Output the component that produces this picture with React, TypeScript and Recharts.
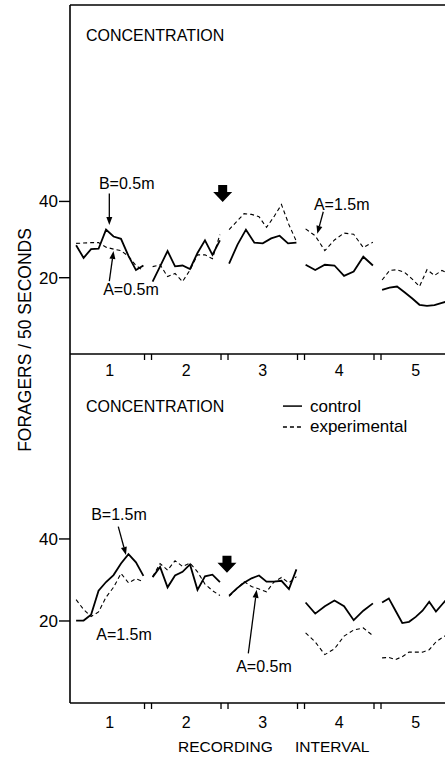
import React from "react";
import { LineChart, Line, XAxis, YAxis, ReferenceLine, ReferenceDot } from "recharts";

const FONT = '"Liberation Sans", Arial, sans-serif';

const intervals = [1, 2, 3, 4, 5];
const breaks = [1.5, 2.5, 3.5, 4.5];
const countTicks = [20, 40];

// foragers per 50 s, one inner list per recording interval
const upperControl = [
  [28.5, 25.2, 27.5, 27.6, 32.6, 30.8, 30.2, 25.7, 22, 23.2],
  [19, 23, 27, 23, 23.2, 22.3, 26.5, 29.8, 26, 29.8],
  [23.7, 28.7, 32.6, 29.2, 29, 30.3, 31, 29, 29.2],
  [23.4, 22, 23.4, 23.2, 20.5, 21.6, 25.5, 23.2],
  [16.8, 17.4, 17.7, 16.2, 14.6, 12.9, 12.6, 12.8, 13.4, 14],
];
const upperExperimental = [
  [29, 29.1, 29.2, 29.2, 28, 27.5, 27.1, 25.6, 23.2, 21.8],
  [22.9, 23.4, 20.3, 21.1, 19, 22, 26, 26, 25, 31.3],
  [32.6, 34.7, 36.8, 36.6, 36, 33.2, 36, 39.2, 33.9, 29.5],
  [32.8, 31, 27.1, 29.9, 31.7, 31.4, 27.9, 29.3],
  [19.4, 21.9, 22.1, 21.4, 19.7, 17.7, 22.1, 20.6, 21.9, 21],
];
const lowerControl = [
  [20.1, 20.1, 21.5, 27.4, 29.5, 31.2, 34, 36.3, 34.3, 31],
  [30.7, 33.2, 28.2, 31.1, 32, 33.8, 27.6, 30.9, 31.3, 29.5],
  [26.2, 27.9, 29.3, 30.4, 31.1, 29.6, 29.6, 29.8, 27.8, 32.6],
  [24.5, 21.8, 23.6, 25, 23.6, 20.2, 22.5, 24.3],
  [24.5, 25.5, 22.5, 19.5, 19.8, 21, 22.5, 24.7, 22.3, 24.2, 26],
];
const lowerExperimental = [
  [25.2, 22.8, 21.1, 22.2, 25.8, 28.2, 31.6, 29.3, 30.3, 29.6],
  [30.8, 34, 32.4, 34.7, 33.3, 34.1, 32, 29, 27.4, 26.2],
  [26, 27.8, 29.6, 28.4, 27.8, 27.1, 29.5, 30.6, 29.3, 30.8],
  [17.1, 14.9, 11.8, 13.2, 16.3, 17.8, 18.3, 16.4],
  [11, 11.1, 10.6, 11.3, 12.4, 12.4, 12.4, 13, 14.9, 16, 17],
];

// samples are spread evenly over each interval, with a gap at the break
const SPAN = 0.44;
function toPoints(series: number[][]) {
  const pts: { t: number; v: number | null }[] = [];
  series.forEach((vals, k) => {
    const n = vals.length;
    vals.forEach((v, i) => {
      pts.push({ t: intervals[k] - SPAN + (2 * SPAN * i) / (n - 1), v });
    });
    pts.push({ t: intervals[k] + 0.5, v: null });
  });
  return pts;
}

const xTicks = [...intervals, ...breaks].sort((a, b) => a - b);

function IntervalTick({ x, y, payload, labelGap }: any) {
  const v = payload.value as number;
  if (intervals.includes(v)) {
    return (
      <text x={x} y={y + labelGap} textAnchor="middle" dominantBaseline="central" fontSize={16} fontFamily={FONT} fill="#000">
        {v}
      </text>
    );
  }
  return (
    <g stroke="#000" strokeWidth={1.3}>
      <line x1={x - 3.5} y1={y} x2={x - 3.5} y2={y + 6} />
      <line x1={x + 3.5} y1={y} x2={x + 3.5} y2={y + 6} />
    </g>
  );
}

function arrowShape(p: any) {
  const { x1, y1, x2, y2 } = p;
  const a = Math.atan2(y2 - y1, x2 - x1);
  const bx = x2 - 8 * Math.cos(a);
  const by = y2 - 8 * Math.sin(a);
  const px = -Math.sin(a) * 3;
  const py = Math.cos(a) * 3;
  return (
    <g>
      <line x1={x1} y1={y1} x2={bx} y2={by} stroke="#000" strokeWidth={1.3} />
      <polygon points={`${x2},${y2} ${bx + px},${by + py} ${bx - px},${by - py}`} fill="#000" />
    </g>
  );
}

// the heavy arrow marking the change, cy is its top
function blockArrow({ cx, cy }: any) {
  return (
    <polygon
      points={`${cx - 4.5},${cy} ${cx + 4.5},${cy} ${cx + 4.5},${cy + 7} ${cx + 9.5},${cy + 7} ${cx},${cy + 17} ${cx - 9.5},${cy + 7} ${cx - 4.5},${cy + 7}`}
      fill="#000"
    />
  );
}

function note(text: string, anchor = "middle", size = 16) {
  return (p: any) => (
    <text x={p.cx} y={p.cy} textAnchor={anchor} dominantBaseline="central" fontSize={size} fontFamily={FONT} fill="#000">
      {text}
    </text>
  );
}

type PanelProps = {
  control: number[][];
  experimental: number[][];
  yMax: number;
  top: number;
  height: number;
  marginTop: number;
  marginBottom: number;
  xAxisHeight: number;
  labelGap: number;
  extras: React.ReactNode[];
};

function Panel({ control, experimental, yMax, top, height, marginTop, marginBottom, xAxisHeight, labelGap, extras }: PanelProps) {
  return (
    <div style={{ position: "absolute", left: 0, top }}>
      <LineChart width={470} height={height} margin={{ top: marginTop, right: 16, bottom: marginBottom, left: 0 }}>
        <XAxis
          dataKey="t"
          type="number"
          domain={[0.48, 5.5]}
          allowDataOverflow
          ticks={xTicks}
          interval={0}
          tick={<IntervalTick labelGap={labelGap} />}
          tickLine={false}
          tickSize={0}
          tickMargin={0}
          height={xAxisHeight}
          axisLine={{ stroke: "#000", strokeWidth: 1.6 }}
        />
        <YAxis
          type="number"
          domain={[0, yMax]}
          allowDataOverflow
          ticks={countTicks}
          interval={0}
          width={70}
          tickSize={11}
          tickMargin={1}
          tick={{ fill: "#000", fontSize: 17, fontFamily: FONT }}
          tickLine={{ stroke: "#000", strokeWidth: 1.4 }}
          axisLine={{ stroke: "#000", strokeWidth: 1.6 }}
        />
        <Line
          data={toPoints(control)}
          dataKey="v"
          type="linear"
          stroke="#000"
          strokeWidth={1.8}
          dot={false}
          isAnimationActive={false}
        />
        <Line
          data={toPoints(experimental)}
          dataKey="v"
          type="linear"
          stroke="#000"
          strokeWidth={1.1}
          strokeDasharray="4 3"
          dot={false}
          isAnimationActive={false}
        />
        {extras}
      </LineChart>
    </div>
  );
}

const upperExtras = [
  <ReferenceLine key="border" y={91.5} stroke="#000" strokeWidth={1.6} />,
  <ReferenceDot key="c" x={0.689} y={83.4} r={0} shape={note("CONCENTRATION", "start")} />,
  <ReferenceDot key="b" x={1.221} y={44.7} r={0} shape={note("B=0.5m")} />,
  <ReferenceLine key="ba" segment={[{ x: 0.994, y: 42.1 }, { x: 0.994, y: 33.8 }]} shape={arrowShape} />,
  <ReferenceDot key="a" x={1.277} y={17} r={0} shape={note("A=0.5m")} />,
  <ReferenceLine key="aa" segment={[{ x: 0.994, y: 19.1 }, { x: 1.049, y: 27 }]} shape={arrowShape} />,
  <ReferenceDot key="big" x={2.476} y={44.3} r={0} shape={blockArrow} />,
  <ReferenceDot key="a2" x={4.032} y={39.1} r={0} shape={note("A=1.5m")} />,
  <ReferenceLine key="a2a" segment={[{ x: 3.791, y: 37.3 }, { x: 3.713, y: 31.5 }]} shape={arrowShape} />,
];

const lowerExtras = [
  <ReferenceDot key="c" x={0.689} y={72.3} r={0} shape={note("CONCENTRATION", "start")} />,
  <ReferenceLine key="lc" segment={[{ x: 3.264, y: 72.4 }, { x: 3.513, y: 72.4 }]} stroke="#000" strokeWidth={1.5} />,
  <ReferenceDot key="lct" x={3.617} y={72.3} r={0} shape={note("control", "start", 17)} />,
  <ReferenceLine key="le" segment={[{ x: 3.264, y: 67.3 }, { x: 3.513, y: 67.3 }]} stroke="#000" strokeWidth={1.3} strokeDasharray="4 3" />,
  <ReferenceDot key="let" x={3.617} y={67.3} r={0} shape={note("experimental", "start", 17)} />,
  <ReferenceDot key="b" x={1.12} y={45.9} r={0} shape={note("B=1.5m")} />,
  <ReferenceLine key="ba" segment={[{ x: 1.111, y: 43 }, { x: 1.212, y: 36.1 }]} shape={arrowShape} />,
  <ReferenceDot key="a" x={1.186} y={16.6} r={0} shape={note("A=1.5m")} />,
  <ReferenceDot key="big" x={2.532} y={35.9} r={0} shape={blockArrow} />,
  <ReferenceDot key="a2" x={3.016} y={8.9} r={0} shape={note("A=0.5m")} />,
  <ReferenceLine key="a2a" segment={[{ x: 2.811, y: 12.1 }, { x: 2.92, y: 27.6 }]} shape={arrowShape} />,
];

export default function App() {
  return (
    <div
      style={{
        position: "fixed",
        left: 0,
        top: 0,
        width: 445,
        height: 759,
        overflow: "hidden",
        background: "#fff",
        fontFamily: FONT,
        color: "#000",
      }}
    >
      <Panel
        control={lowerControl}
        experimental={lowerExperimental}
        yMax={85.1}
        top={340}
        height={419}
        marginTop={14}
        marginBottom={0}
        xAxisHeight={56}
        labelGap={19}
        extras={lowerExtras}
      />
      <Panel
        control={upperControl}
        experimental={upperExperimental}
        yMax={91.5}
        top={0}
        height={390}
        marginTop={5}
        marginBottom={6}
        xAxisHeight={30}
        labelGap={16}
        extras={upperExtras}
      />
      <div
        style={{
          position: "absolute",
          left: 25.5,
          top: 340,
          transform: "translate(-50%, -50%) rotate(-90deg)",
          whiteSpace: "nowrap",
          fontSize: 17.5,
          lineHeight: 1,
        }}
      >
        FORAGERS / 50 SECONDS
      </div>
      <div
        style={{
          position: "absolute",
          left: 178,
          top: 739,
          whiteSpace: "nowrap",
          fontSize: 15.5,
          lineHeight: 1,
          wordSpacing: 18,
        }}
      >
        RECORDING INTERVAL
      </div>
    </div>
  );
}
